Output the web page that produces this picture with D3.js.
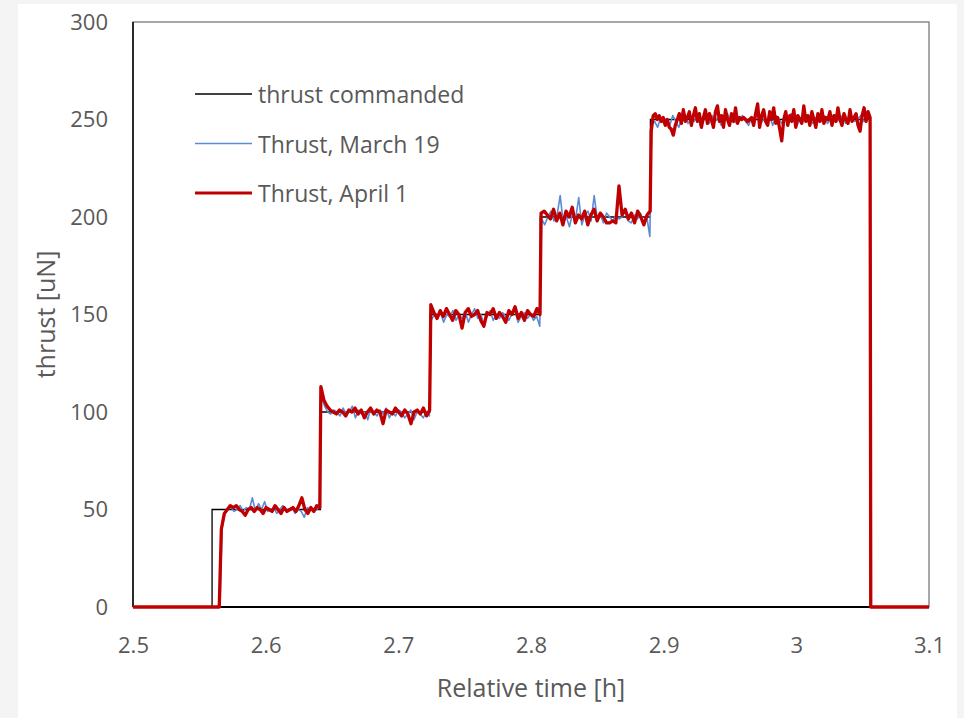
<!DOCTYPE html>
<html>
<head>
<meta charset="utf-8">
<script src="https://cdn.jsdelivr.net/npm/d3@7"></script>
<style>
  html, body { margin: 0; padding: 0; background: #f4f4f4; }
  svg { display: block; }
  text { font-family: "Open Sans", "Noto Sans", sans-serif; fill: #595959; }
</style>
</head>
<body>
<div id="chart"></div>
<script>
const X_TICKS = [2.5, 2.6, 2.7, 2.8, 2.9, 3.0, 3.1];
const Y_TICKS = [0, 50, 100, 150, 200, 250, 300];

// commanded thrust: step times [h] and levels [uN]
const CMD_TIMES = [2.5, 2.5596, 2.6413, 2.7238, 2.8070, 2.8900, 3.0558, 3.1];
const CMD_LEVELS = [0, 50, 100, 150, 200, 250, 0, 0];

// measured runs: each plateau is sampled evenly between its start and end time
const APRIL_STARTS = [2.5666, 2.6416, 2.7245, 2.8076, 2.8906];
const APRIL_ENDS = [2.6408, 2.7236, 2.8068, 2.8898, 3.0556];
const APRIL_RISE = 2.5650;
const APRIL_DROP = 3.0561;

const april50 = [40, 48, 50, 52, 51, 52, 50, 49, 47, 50, 51, 49, 51, 50, 48, 51, 50, 49, 52, 50, 48, 51, 49, 50, 51, 49, 52, 56, 50, 48, 51, 49, 52, 51];
const april100 = [113, 106, 103, 101, 100, 99, 101, 100, 98, 101, 100, 102, 99, 101, 97, 100, 102, 99, 101, 100, 94, 101, 100, 99, 102, 100, 98, 101, 99, 94, 100, 101, 99, 102, 98, 101];
const april150 = [155, 151, 148, 152, 149, 153, 150, 147, 152, 150, 143, 151, 153, 149, 150, 152, 147, 144, 151, 150, 153, 148, 151, 149, 146, 152, 150, 154, 148, 151, 147, 152, 150, 149, 153, 150];
const april200 = [202, 203, 201, 199, 204, 198, 202, 196, 203, 200, 205, 197, 201, 199, 203, 196, 201, 204, 198, 202, 200, 197, 197, 198, 197, 216, 201, 204, 199, 202, 197, 203, 200, 196, 201, 203];
const april250 = [244, 252,
  253, 250, 252, 249, 251, 247, 250, 246, 245, 242,
  247, 250, 253, 248, 255, 249, 251, 254, 247, 252, 256, 249, 253, 246, 251, 255, 248, 253, 250, 246, 254, 257,
  249, 252, 246, 255, 250, 247, 253, 249, 256, 248, 251, 250, 251, 250, 249, 250, 251, 247, 253, 258,
  246, 252, 255, 249, 247, 254, 250, 256, 248, 251, 245, 239,
  250, 254, 247, 252, 249, 255, 246, 252, 250, 248, 257,
  249, 252, 247, 254, 250, 246, 253, 249, 255, 248, 251, 250, 254, 247, 252, 249, 256, 250, 247, 253, 250, 248, 255, 249, 251, 253, 247, 244,
  252, 256, 249, 254, 251];

const MARCH_STARTS = [2.5670, 2.6421, 2.7248, 2.8080, 2.8909];
const MARCH_ENDS = [2.6406, 2.7234, 2.8066, 2.8896, 3.0554];
const MARCH_RISE = 2.5656;
const MARCH_DROP = 3.0561;

const march50 = [40, 48, 50, 51, 49, 50, 52, 49, 51, 50, 56, 49, 53, 50, 54, 49, 50, 51, 48, 50, 52, 49, 50, 51, 48, 50, 49, 46, 51, 50, 49, 50, 51];
const march100 = [108, 103, 100, 99, 101, 100, 98, 102, 99, 100, 103, 97, 101, 99, 100, 96, 102, 100, 98, 101, 99, 102, 97, 100, 98, 101, 100, 97, 99, 101, 96, 100, 99, 97, 100, 98];
const march150 = [147, 150, 148, 151, 146, 150, 149, 152, 147, 150, 148, 151, 146, 150, 153, 148, 150, 145, 149, 152, 147, 150, 148, 151, 149, 147, 150, 152, 146, 149, 151, 148, 150, 147, 149, 144];
const march200 = [199, 196, 200, 203, 198, 201, 211, 197, 200, 195, 202, 199, 210, 196, 201, 203, 198, 211, 199, 201, 197, 202, 200, 198, 201, 199, 200, 203, 198, 197, 201, 199, 202, 196, 200, 190];
const march250 = [247, 249, 246, 251, 248, 250, 247, 252, 249, 246, 251, 253, 248, 250, 249, 252, 247, 251, 250, 248, 252, 249, 251, 247, 250, 253, 249, 251, 248, 250, 252, 249, 247, 251, 250, 253, 248, 250, 249, 251, 247, 252, 250, 248, 251, 249, 253, 250, 247, 251, 249, 252, 250, 248, 251, 250, 249, 252, 248, 250, 251, 249, 250, 252, 248, 250, 251, 249, 250, 252, 249, 250, 251];

const LEGEND = [
  { label: 'thrust commanded', color: '#000000', width: 1.3 },
  { label: 'Thrust, March 19', color: '#5b8bd6', width: 1.6 },
  { label: 'Thrust, April 1', color: '#c00000', width: 3 },
];

const W = 964, H = 718;
const plot = { left: 133, right: 929, top: 22, bottom: 607 };

const x = d3.scaleLinear().domain([2.5, 3.1]).range([plot.left, plot.right]);
const y = d3.scaleLinear().domain([0, 300]).range([plot.bottom, plot.top]);

function buildTrace(rise, starts, ends, plateaus, drop) {
  const pts = [[2.5, 0], [rise, 0]];
  plateaus.forEach((vals, i) => {
    const dt = (ends[i] - starts[i]) / (vals.length - 1);
    vals.forEach((v, j) => pts.push([starts[i] + j * dt, v]));
  });
  pts.push([drop, 0], [3.1, 0]);
  return pts;
}

const cmdPts = CMD_TIMES.map((t, i) => [t, CMD_LEVELS[i]]);
const marchPts = buildTrace(MARCH_RISE, MARCH_STARTS, MARCH_ENDS, [march50, march100, march150, march200, march250], MARCH_DROP);
const aprilPts = buildTrace(APRIL_RISE, APRIL_STARTS, APRIL_ENDS, [april50, april100, april150, april200, april250], APRIL_DROP);

const svg = d3.select('#chart').append('svg')
  .attr('width', W).attr('height', H);

svg.append('rect').attr('width', W).attr('height', H).attr('fill', '#f4f4f4');
svg.append('rect').attr('x', 18).attr('y', 4).attr('width', 939).attr('height', 714).attr('fill', '#ffffff');

// plot area border
svg.append('rect')
  .attr('x', plot.left).attr('y', plot.top)
  .attr('width', plot.right - plot.left).attr('height', plot.bottom - plot.top)
  .attr('fill', 'none').attr('stroke', '#6e6e6e').attr('stroke-width', 1.2);

const line = d3.line().x(d => x(d[0])).y(d => y(d[1]));

svg.append('path').datum(cmdPts)
  .attr('d', line.curve(d3.curveStepAfter))
  .attr('fill', 'none').attr('stroke', '#000').attr('stroke-width', 1.3);

line.curve(d3.curveLinear);

// axes lines
svg.append('line').attr('x1', plot.left).attr('x2', plot.left).attr('y1', plot.top).attr('y2', plot.bottom)
  .attr('stroke', '#000').attr('stroke-width', 1.5);
svg.append('line').attr('x1', plot.left).attr('x2', plot.right).attr('y1', plot.bottom).attr('y2', plot.bottom)
  .attr('stroke', '#000').attr('stroke-width', 2);

svg.append('path').datum(marchPts)
  .attr('d', line)
  .attr('fill', 'none').attr('stroke', '#5b8bd6').attr('stroke-width', 1.6)
  .attr('stroke-linejoin', 'round');

svg.append('path').datum(aprilPts)
  .attr('d', line)
  .attr('fill', 'none').attr('stroke', '#c00000').attr('stroke-width', 3.3)
  .attr('stroke-linejoin', 'round');

// y axis
const yAxis = svg.append('g')
  .attr('transform', `translate(${plot.left},0)`)
  .call(d3.axisLeft(y).tickValues(Y_TICKS).tickSize(0).tickPadding(25));
yAxis.select('.domain').remove();
yAxis.selectAll('text')
  .attr('font-size', 22).attr('fill', '#595959')
  .style('font-family', '"Open Sans", sans-serif');

// x axis
const xAxis = svg.append('g')
  .attr('transform', `translate(0,${plot.bottom})`)
  .call(d3.axisBottom(x).tickValues(X_TICKS).tickSize(0).tickPadding(30)
    .tickFormat(d => String(+d.toFixed(1))));
xAxis.select('.domain').remove();
xAxis.selectAll('text')
  .attr('font-size', 22).attr('fill', '#595959')
  .style('font-family', '"Open Sans", sans-serif');

// axis titles
svg.append('text')
  .attr('x', (plot.left + plot.right) / 2).attr('y', 697)
  .attr('text-anchor', 'middle').attr('font-size', 25)
  .text('Relative time [h]');

svg.append('text')
  .attr('transform', `translate(45,${(plot.top + plot.bottom) / 2}) rotate(-90)`)
  .attr('text-anchor', 'middle').attr('dominant-baseline', 'central')
  .attr('font-size', 25)
  .text('thrust [uN]');

// legend
const legend = svg.append('g');
LEGEND.forEach((item, i) => {
  const ly = 94 + i * 49.5;
  legend.append('line')
    .attr('x1', 195).attr('x2', 252).attr('y1', ly).attr('y2', ly)
    .attr('stroke', item.color).attr('stroke-width', item.width);
  legend.append('text')
    .attr('x', 258).attr('y', ly)
    .attr('dominant-baseline', 'central')
    .attr('font-size', 23)
    .text(item.label);
});
</script>
</body>
</html>
